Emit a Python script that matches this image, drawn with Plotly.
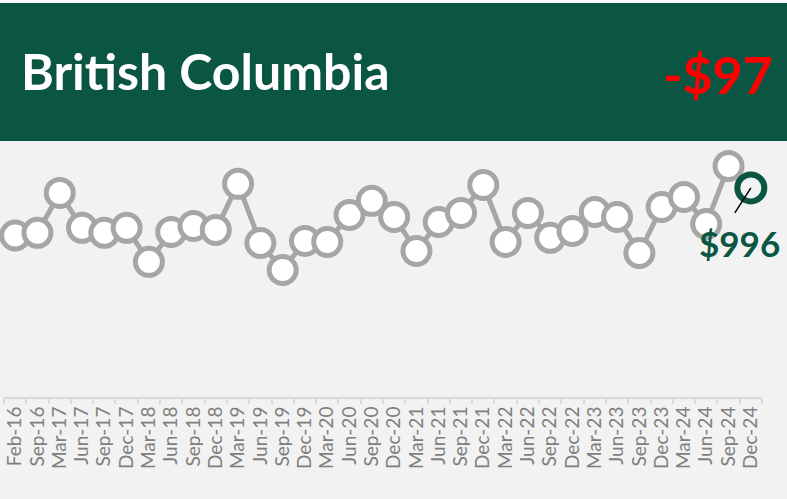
import plotly.graph_objects as go

months = ["Feb-16", "Sep-16", "Mar-17", "Jun-17", "Sep-17", "Dec-17", "Mar-18", "Jun-18",
          "Sep-18", "Dec-18", "Mar-19", "Jun-19", "Sep-19", "Dec-19", "Mar-20", "Jun-20",
          "Sep-20", "Dec-20", "Mar-21", "Jun-21", "Sep-21", "Dec-21", "Mar-22", "Jun-22",
          "Sep-22", "Dec-22", "Mar-23", "Jun-23", "Sep-23", "Dec-23", "Mar-24", "Jun-24",
          "Sep-24", "Dec-24"]
values = [786, 798, 974, 820, 798, 820, 670, 802, 828, 811, 1014, 753, 634, 762, 758, 877,
          939, 868, 718, 846, 886, 1009, 758, 886, 776, 806, 890, 868, 709, 912, 956, 837,
          1093, 996]
title = "British Columbia"
change_label = "-$97"
last_label = "$996"

GREEN = "#0b5642"
GREY = "#a6a6a6"
BG = "#f2f2f2"
FONT = "Lato"
W, H = 787, 499

fig = go.Figure()
fig.add_trace(go.Scatter(
    x=months, y=values,
    mode="lines+markers", cliponaxis=False,
    line=dict(color=GREY, width=5),
    marker=dict(size=27, color="white", line=dict(color=GREY, width=5)),
    hoverinfo="skip", showlegend=False,
))
fig.add_trace(go.Scatter(
    x=[months[-1]], y=[values[-1]], mode="markers", cliponaxis=False,
    marker=dict(size=27, color=BG, line=dict(color=GREEN, width=6)),
    hoverinfo="skip", showlegend=False,
))

# header band
fig.add_shape(type="rect", xref="paper", yref="paper", x0=0, x1=1,
              y0=(H - 141) / H, y1=(H - 3) / H, fillcolor=GREEN, line_width=0, layer="below")
fig.add_shape(type="rect", xref="paper", yref="paper", x0=0, x1=1,
              y0=(H - 3) / H, y1=1, fillcolor="white", line_width=0, layer="below")

# leader line from last point
fig.add_shape(type="line", xref="x", yref="y", xsizemode="pixel", ysizemode="pixel",
              xanchor=len(months) - 1, yanchor=values[-1], x0=0, y0=0, x1=-16, y1=-25,
              line=dict(color="black", width=1.5), layer="above")

fig.add_annotation(x=months[-1], y=values[-1], text=f"<b>{last_label}</b>", showarrow=False,
                   xshift=-11, yshift=-55, font=dict(family=FONT, size=35, color=GREEN))
fig.add_annotation(xref="paper", yref="paper", x=19 / W, y=(H - 71) / H, xanchor="left",
                   yanchor="middle", text=f"<b>{title}</b>", showarrow=False,
                   font=dict(family=FONT, size=50, color="white"))
fig.add_annotation(xref="paper", yref="paper", x=775 / W, y=(H - 74) / H, xanchor="right",
                   yanchor="middle", text=f"<b>{change_label}</b>", showarrow=False,
                   font=dict(family=FONT, size=52, color="#ff0000"))

fig.update_layout(
    width=W, height=H,
    margin=dict(l=0, r=0, t=0, b=0),
    paper_bgcolor=BG, plot_bgcolor=BG,
    xaxis=dict(domain=[4 / W, 762 / W], type="category", range=[-0.5, len(months) - 0.5],
               tickmode="linear", tick0=0, dtick=1,
               showgrid=False, zeroline=False, showline=True, linecolor="#d9d9d9", linewidth=2,
               ticks="outside", tickson="boundaries", ticklen=5, tickcolor="#d9d9d9",
               tickwidth=1.5, tickangle=-90,
               tickfont=dict(family=FONT, size=19, color="#7f7f7f"), automargin=False),
    yaxis=dict(domain=[(H - 397) / H, (H - 141) / H], range=[74, 1203], visible=False,
               automargin=False),
)

fig.write_html("out.html")
